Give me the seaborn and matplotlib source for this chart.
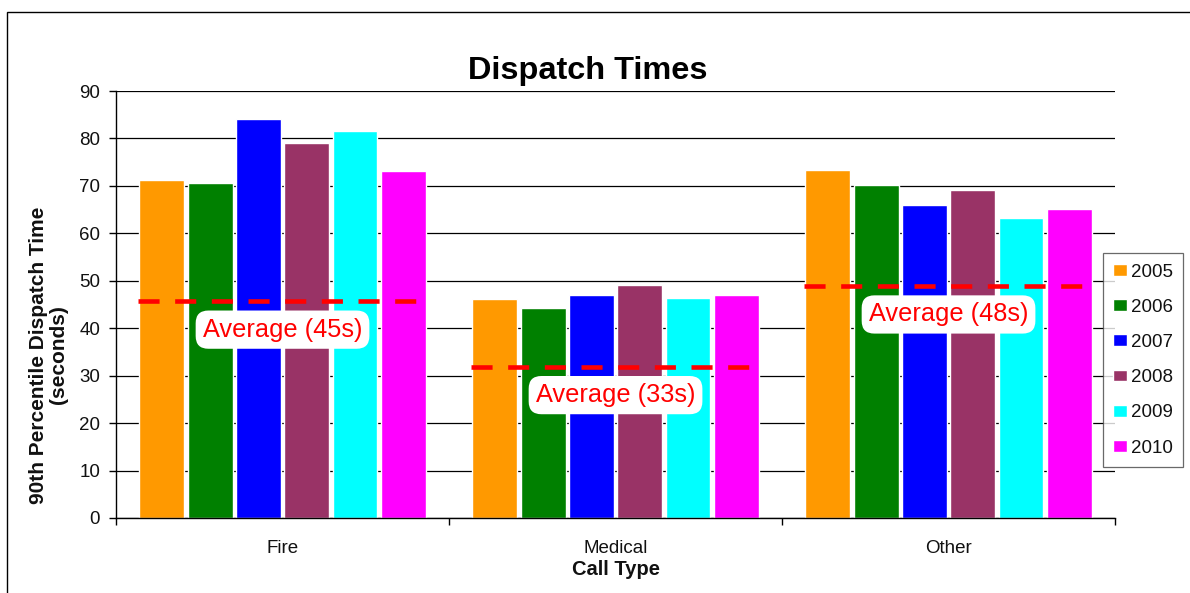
import pandas as pd
import numpy as np
import matplotlib
matplotlib.use('Agg')
import matplotlib.pyplot as plt
from matplotlib.patches import Rectangle
import seaborn as sns

# Data
call_types = ['Fire', 'Medical', 'Other']
years = ['2005', '2006', '2007', '2008', '2009', '2010']
fire = [71.3, 70.7, 84.0, 79.0, 81.6, 73.2]
medical = [46.2, 44.2, 47.1, 49.1, 46.3, 47.1]
other = [73.3, 70.2, 66.0, 69.1, 63.2, 65.2]
avg_values = [45.7, 31.9, 48.9]
avg_labels = ['Average (45s)', 'Average (33s)', 'Average (48s)']
year_colors = ['#FF9900', '#008000', '#0000FF', '#993366', '#00FFFF', '#FF00FF']

df = pd.DataFrame({
    'call_type': np.repeat(call_types, len(years)),
    'year': years * len(call_types),
    'time': fire + medical + other,
})

sns.set_style('white')
plt.rcParams['font.family'] = ['Liberation Sans', 'DejaVu Sans']
txt_color = '#111111'

fig = plt.figure(figsize=(11.9, 5.93), dpi=100)
ax = fig.add_axes([0.0975, 0.1265, 0.8395, 0.72])

sns.barplot(data=df, x='call_type', y='time', hue='year',
            palette=year_colors, saturation=1, width=0.87, gap=0.07,
            ax=ax, zorder=2)

# average lines + labels
for i, (avg, label) in enumerate(zip(avg_values, avg_labels)):
    ax.hlines(avg, i - 0.435, i + 0.435, colors='#FF0000', linewidth=3.3,
              linestyles=(0, (4.6, 3.4)), zorder=4)
    ax.text(i, avg - 6, label, ha='center', va='center', fontsize=18.3,
            color='#FF0000', zorder=5,
            bbox=dict(boxstyle='round,pad=0.28,rounding_size=0.5',
                      fc='white', ec='none'))

ax.set_xlim(-0.5, 2.5)
ax.set_ylim(0, 90)
ax.set_yticks(range(0, 91, 10))
ax.yaxis.grid(True, color='black', linewidth=0.9)
ax.set_axisbelow(True)

for side in ['top', 'right']:
    ax.spines[side].set_visible(False)
for side in ['left', 'bottom']:
    ax.spines[side].set_color('black')
    ax.spines[side].set_linewidth(1)

ax.tick_params(axis='y', which='major', left=True, length=5, width=1,
               color='black', pad=6.5, labelsize=13.5, labelcolor=txt_color)
ax.tick_params(axis='x', which='major', length=0, pad=15.5, labelsize=13.5,
               labelcolor=txt_color)
ax.set_xticks([-0.5, 0.5, 1.5, 2.5], minor=True)
ax.tick_params(axis='x', which='minor', bottom=True, length=5, width=1,
               color='black')

ax.set_xlabel('Call Type', fontsize=14.5, fontweight='bold', labelpad=2.5,
              color=txt_color)
ax.set_ylabel('90th Percentile Dispatch Time\n(seconds)', fontsize=15,
              fontweight='bold', linespacing=1.1, color=txt_color)
ax.yaxis.set_label_coords(-0.048, 0.382)

leg = ax.legend(loc='upper left', bbox_to_anchor=(0.988, 0.62),
                borderaxespad=0, frameon=True, fancybox=False,
                fontsize=13.5, handlelength=0.73, handleheight=0.6,
                handletextpad=0.22, labelspacing=0.97, borderpad=0.55)
leg.get_frame().set_edgecolor('#444444')
leg.get_frame().set_linewidth(0.9)
for t in leg.get_texts():
    t.set_color(txt_color)

fig.text(588 / 1190, 1 - 79 / 593, 'Dispatch Times', ha='center',
         va='baseline', fontsize=23.4, fontweight='bold', color='black')

# outer chart frame
fig.patches.append(Rectangle((7 / 1190, -0.1), 1.2, 1.1 - 12 / 593,
                             transform=fig.transFigure, fill=False,
                             edgecolor='black', linewidth=1))

fig.savefig('out.png', dpi=100)
plt.close(fig)
